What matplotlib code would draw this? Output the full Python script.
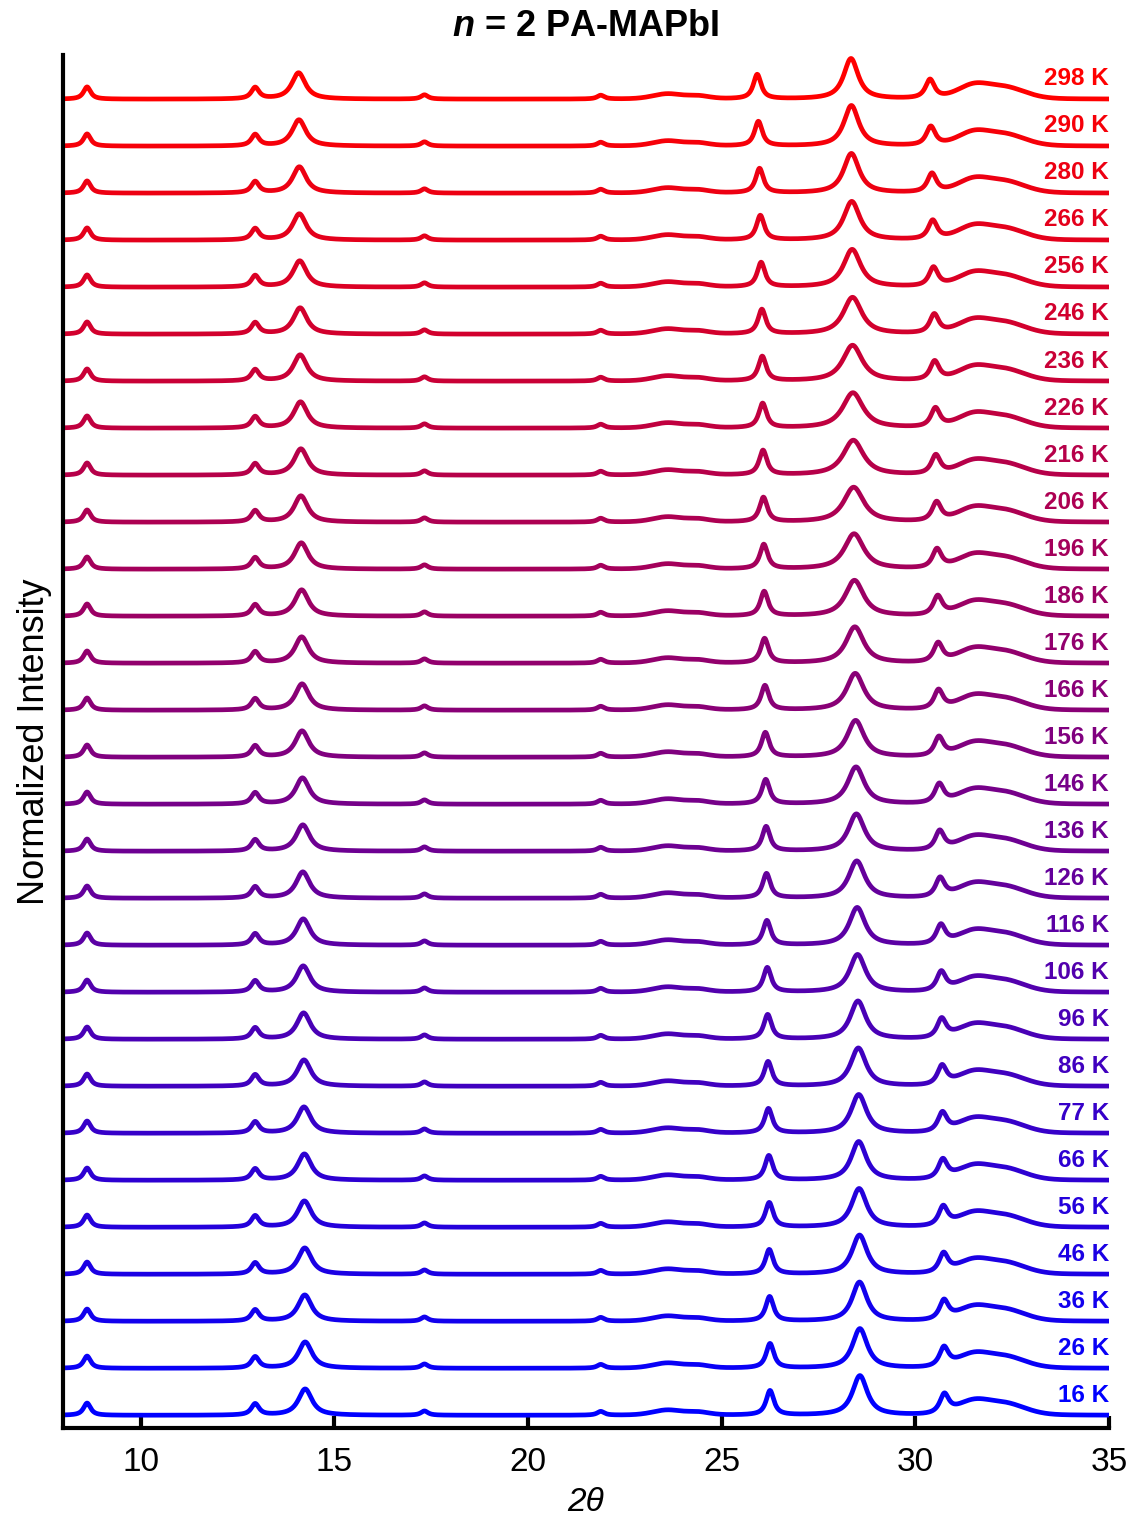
import numpy as np
import matplotlib
matplotlib.use("Agg")
import matplotlib.pyplot as plt
from matplotlib.colors import LinearSegmentedColormap

plt.rcParams["font.family"] = ["Liberation Sans", "DejaVu Sans"]
plt.rcParams["mathtext.fontset"] = "custom"
plt.rcParams["mathtext.it"] = "Liberation Sans:italic:bold"
plt.rcParams["mathtext.rm"] = "Liberation Sans:bold"

# Temperatures, coldest first (bottom trace) to warmest (top trace)
temperatures = [16, 26, 36, 46, 56, 66, 77, 86, 96, 106, 116, 126, 136, 146,
                156, 166, 176, 186, 196, 206, 216, 226, 236, 246, 256, 266,
                280, 290, 298]

# Positions (2theta, deg) of the four strongest reflections for each temperature
pos_14 = [14.25, 14.25, 14.24, 14.24, 14.23, 14.23, 14.22, 14.22, 14.21, 14.20,
          14.20, 14.19, 14.19, 14.18, 14.17, 14.17, 14.16, 14.16, 14.15, 14.14,
          14.14, 14.13, 14.12, 14.12, 14.11, 14.10, 14.10, 14.09, 14.08]
pos_26 = [26.25, 26.25, 26.24, 26.23, 26.23, 26.22, 26.21, 26.20, 26.19, 26.18,
          26.17, 26.16, 26.15, 26.14, 26.13, 26.12, 26.11, 26.10, 26.09, 26.08,
          26.07, 26.06, 26.05, 26.04, 26.02, 26.00, 25.98, 25.95, 25.92]
pos_28 = [28.57, 28.57, 28.56, 28.56, 28.55, 28.54, 28.54, 28.53, 28.52, 28.51,
          28.50, 28.49, 28.48, 28.47, 28.46, 28.45, 28.44, 28.43, 28.42, 28.41,
          28.40, 28.39, 28.38, 28.38, 28.37, 28.36, 28.35, 28.35, 28.34]
pos_30 = [30.75, 30.74, 30.74, 30.73, 30.72, 30.71, 30.70, 30.69, 30.68, 30.67,
          30.66, 30.64, 30.63, 30.62, 30.61, 30.60, 30.59, 30.58, 30.56, 30.55,
          30.53, 30.52, 30.50, 30.49, 30.47, 30.45, 30.43, 30.40, 30.38]

# Height and width (FWHM) of the strongest reflection near 28.5 deg
amp_28 = [0.84, 0.84, 0.83, 0.83, 0.82, 0.82, 0.82, 0.81, 0.81, 0.80,
          0.80, 0.79, 0.79, 0.79, 0.78, 0.78, 0.77, 0.76, 0.75, 0.74,
          0.74, 0.75, 0.76, 0.78, 0.80, 0.82, 0.84, 0.86, 0.86]
fwhm_28 = [0.46, 0.46, 0.46, 0.47, 0.47, 0.47, 0.48, 0.48, 0.48, 0.49,
           0.49, 0.50, 0.50, 0.51, 0.52, 0.53, 0.55, 0.57, 0.60, 0.62,
           0.63, 0.63, 0.60, 0.57, 0.53, 0.50, 0.48, 0.46, 0.45]

# Weaker reflections: position, height, FWHM, Lorentzian fraction
minor_pos = [8.62, 12.96, 17.33, 21.88, 23.60, 24.40, 31.50, 32.35]
minor_amp = [0.26, 0.24, 0.09, 0.08, 0.11, 0.06, 0.27, 0.23]
minor_fwhm = [0.22, 0.24, 0.22, 0.22, 0.90, 0.70, 1.00, 1.20]
minor_eta = [0.9, 0.9, 0.9, 0.9, 0.3, 0.3, 0.2, 0.2]

# Strong reflections: height, FWHM, Lorentzian fraction (14, 26, 30 deg)
main_amp = [0.56, 0.52, 0.40]
main_fwhm = [0.42, 0.24, 0.28]
main_eta = [0.9, 0.9, 0.9]

labels = [f"{t} K" for t in temperatures]
two_theta = np.linspace(8.0, 35.0, 2700)


def pseudo_voigt(x, x0, fwhm, eta):
    hw = fwhm / 2.0
    lor = 1.0 / (1.0 + ((x - x0) / hw) ** 2)
    gau = np.exp(-np.log(2.0) * ((x - x0) / hw) ** 2)
    return eta * lor + (1.0 - eta) * gau


cmap = LinearSegmentedColormap.from_list("temp", ["#0000ff", "#ff0000"])
n = len(temperatures)

fig = plt.figure(figsize=(11.30, 15.15), dpi=100)
ax = fig.add_axes([0.0558, 0.0574, 0.9256, 0.9063])

for i in range(n):
    y = np.zeros_like(two_theta)
    for p, a, w, e in zip(minor_pos, minor_amp, minor_fwhm, minor_eta):
        y += a * pseudo_voigt(two_theta, p, w, e)
    for p, a, w, e in zip([pos_14[i], pos_26[i], pos_30[i]], main_amp,
                          main_fwhm, main_eta):
        y += a * pseudo_voigt(two_theta, p, w, e)
    y += amp_28[i] * pseudo_voigt(two_theta, pos_28[i], fwhm_28[i], 0.9)
    color = cmap(i / (n - 1))
    ax.plot(two_theta, y + i - 0.05, color=color, lw=3.4,
            solid_capstyle="round")
    ax.text(35.0, i + 0.38, labels[i], color=color, fontsize=17.5,
            fontweight="bold", ha="right", va="center")

ax.set_xlim(8, 35)
ax.set_ylim(-0.32, 28.89)
ax.set_xticks([10, 15, 20, 25, 30, 35])
ax.tick_params(axis="x", direction="in", length=9, width=3, labelsize=24,
               pad=14)
ax.set_yticks([])
for side in ("top", "right"):
    ax.spines[side].set_visible(False)
for side in ("left", "bottom"):
    ax.spines[side].set_linewidth(3)

ax.set_xlabel("2θ", fontsize=24, fontstyle="italic", labelpad=6)
ax.set_ylabel("Normalized Intensity", fontsize=26, labelpad=8)
ax.set_title(r"$n$ = 2 PA-MAPbI", fontsize=26, fontweight="bold", pad=14)

fig.savefig("out.png", dpi=100)
